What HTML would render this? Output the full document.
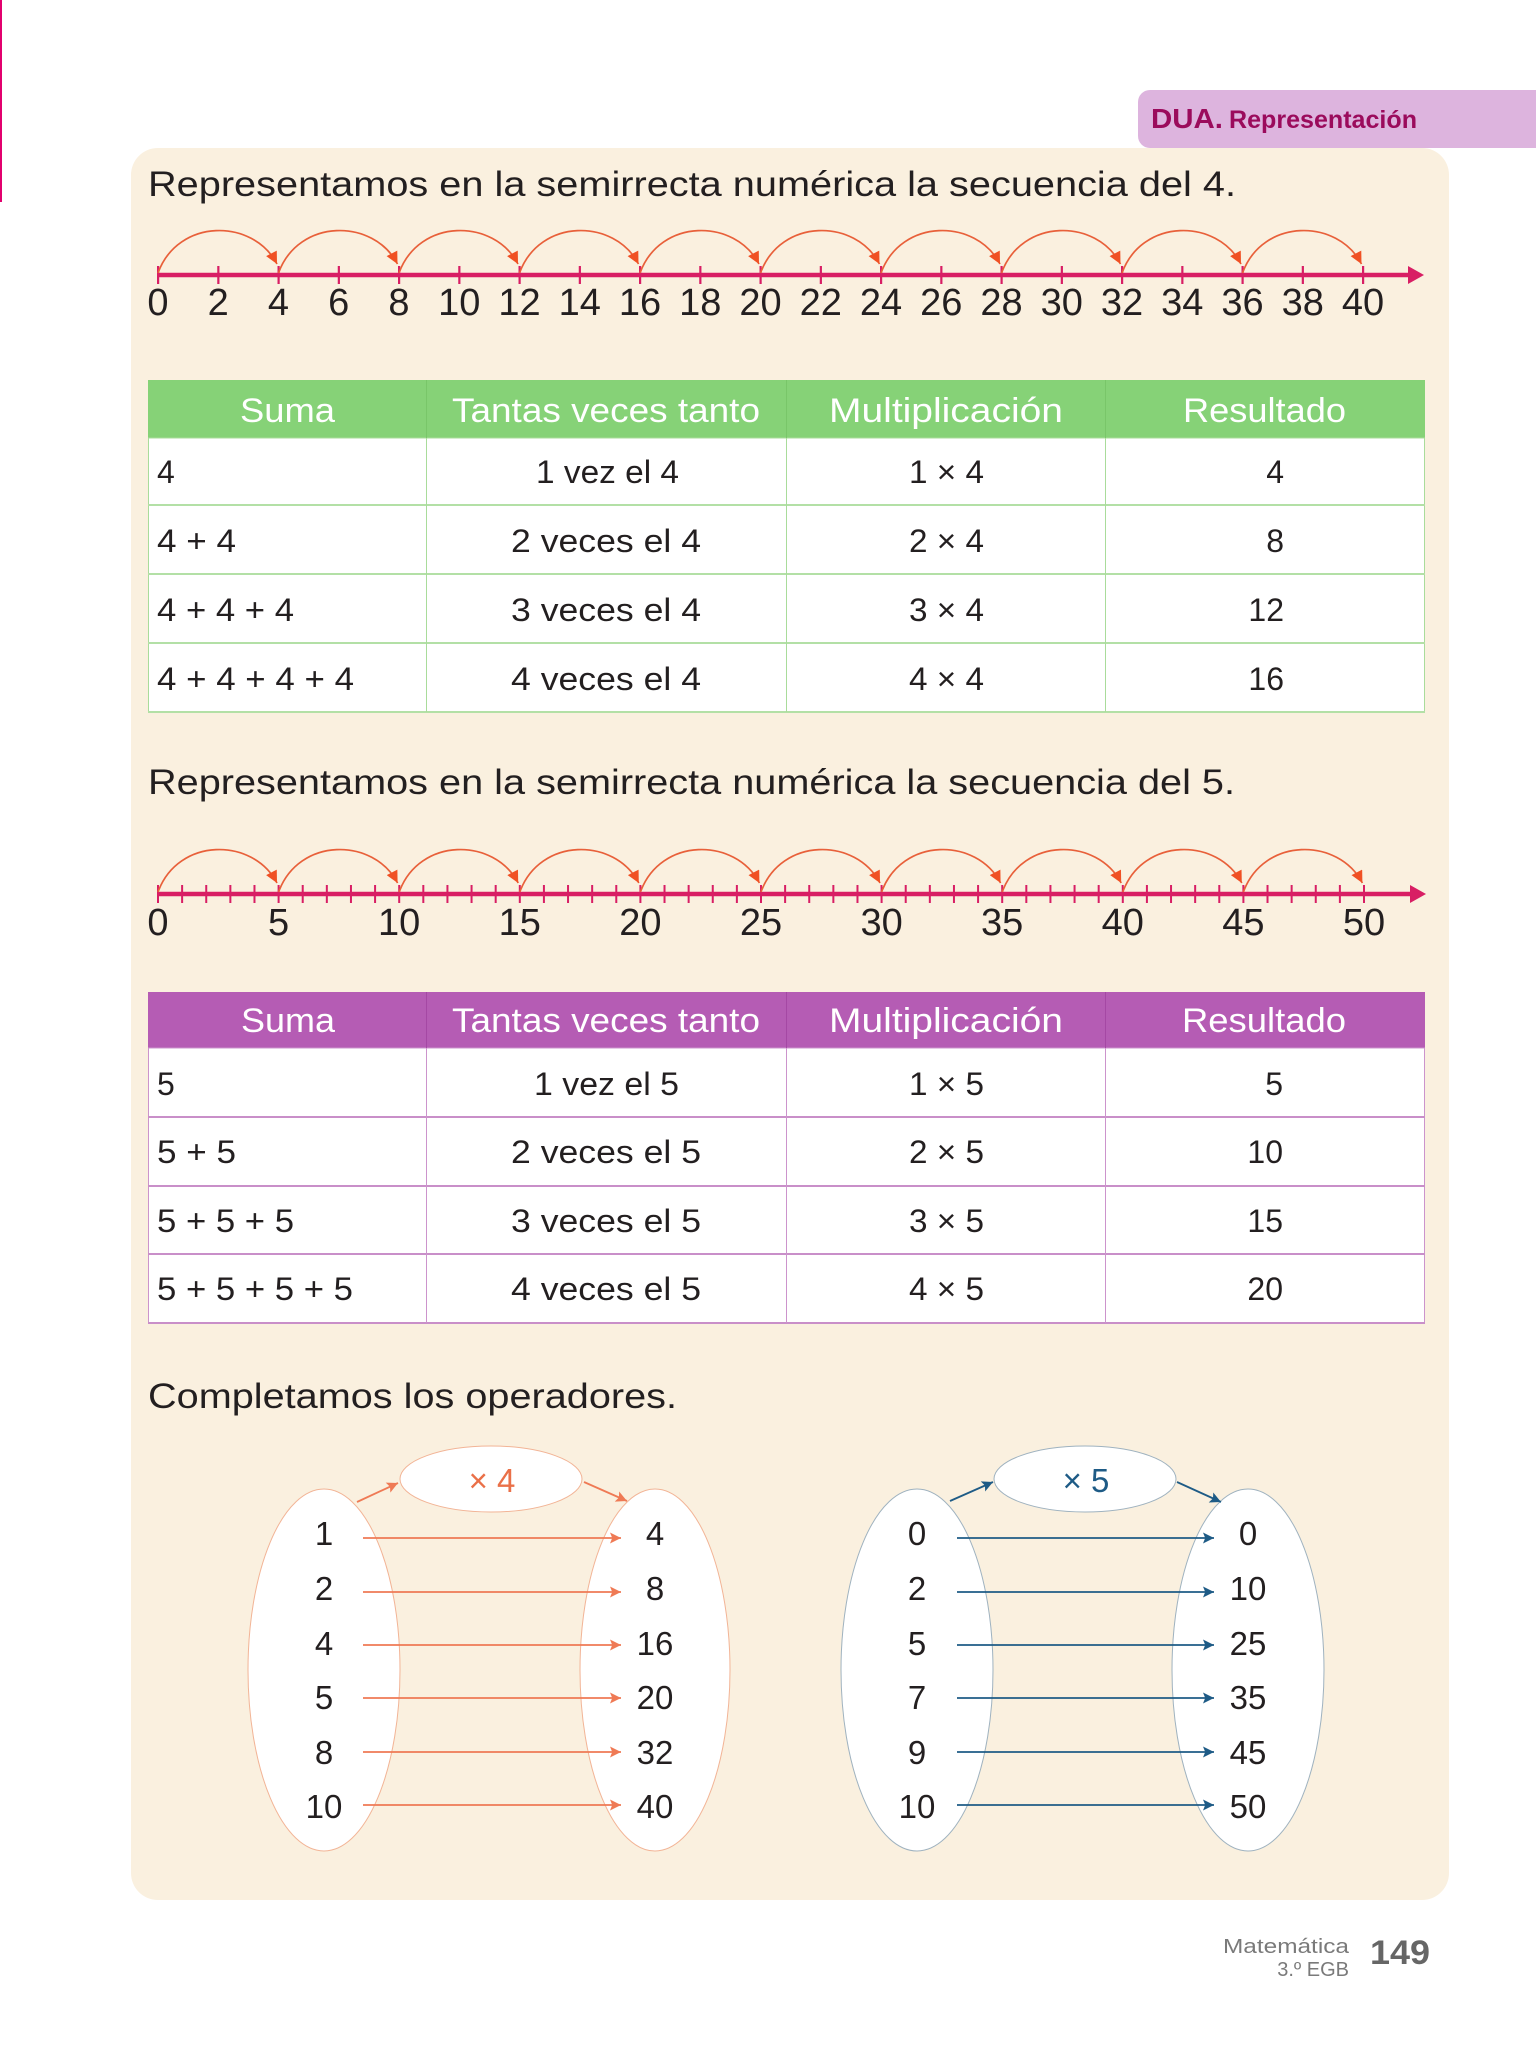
<!DOCTYPE html>
<html><head><meta charset="utf-8"><style>
html,body{margin:0;padding:0;background:#fff;}
svg{display:block;}
text{font-family:"Liberation Sans",sans-serif;}
</style></head><body>
<svg width="1536" height="2048" viewBox="0 0 1536 2048" xmlns="http://www.w3.org/2000/svg">
<defs>
<marker id="mo" viewBox="0 0 10 10" refX="10" refY="5" markerWidth="14" markerHeight="12" markerUnits="userSpaceOnUse" orient="auto"><path d="M0,0 L10,5 L0,10 z" fill="#f05023"/></marker>
<marker id="ao" viewBox="0 0 10 10" refX="10" refY="5" markerWidth="15" markerHeight="11" markerUnits="userSpaceOnUse" orient="auto"><path d="M0,0 L10,5 L0,10 L2,5 z" fill="#ef7a55"/></marker>
<marker id="ab" viewBox="0 0 10 10" refX="10" refY="5" markerWidth="15" markerHeight="11" markerUnits="userSpaceOnUse" orient="auto"><path d="M0,0 L10,5 L0,10 L2,5 z" fill="#1e5b86"/></marker>
</defs>

<rect x="0" y="0" width="2" height="202" fill="#e2006e"/>

<rect x="131" y="148" width="1318" height="1752" rx="27" ry="27" fill="#faf0df"/>
<rect x="1138" y="90" width="420" height="58" rx="12" ry="12" fill="#ddb4de"/>
<text x="1151" y="128" font-size="28" font-weight="bold" fill="#9b0b5c" textLength="72" lengthAdjust="spacingAndGlyphs">DUA.</text>
<text x="1229" y="128" font-size="25" font-weight="bold" fill="#9b0b5c" textLength="188" lengthAdjust="spacingAndGlyphs">Representación</text>

<!-- Title 1 -->
<text x="148" y="196" font-size="35" fill="#231f20" textLength="1088" lengthAdjust="spacingAndGlyphs">Representamos en la semirrecta numérica la secuencia del 4.</text>

<!-- Number line 1 -->
<line x1="158" y1="275" x2="1412" y2="275" stroke="#d81e64" stroke-width="4.5"/>
<line x1="157" y1="275" x2="1366" y2="275" stroke="#d81e64" stroke-width="18" stroke-dasharray="2.2 58.05"/>
<polygon points="1408,266 1424,275 1408,284" fill="#d81e64"/>
<g fill="none" stroke="#e8603a" stroke-width="1.7" marker-end="url(#mo)">
<path d="M158,273 c20,-55 95,-55 119,-9"/>
<path d="M278.5,273 c20,-55 95,-55 119,-9"/>
<path d="M399,273 c20,-55 95,-55 119,-9"/>
<path d="M519.5,273 c20,-55 95,-55 119,-9"/>
<path d="M640,273 c20,-55 95,-55 119,-9"/>
<path d="M760.5,273 c20,-55 95,-55 119,-9"/>
<path d="M881,273 c20,-55 95,-55 119,-9"/>
<path d="M1001.5,273 c20,-55 95,-55 119,-9"/>
<path d="M1122,273 c20,-55 95,-55 119,-9"/>
<path d="M1242.5,273 c20,-55 95,-55 119,-9"/>
</g>
<g font-size="38" fill="#231f20" text-anchor="middle">
<text x="158" y="315">0</text><text x="218.25" y="315">2</text><text x="278.5" y="315">4</text><text x="338.75" y="315">6</text><text x="399" y="315">8</text><text x="459.25" y="315">10</text><text x="519.5" y="315">12</text><text x="579.75" y="315">14</text><text x="640" y="315">16</text><text x="700.25" y="315">18</text><text x="760.5" y="315">20</text><text x="820.75" y="315">22</text><text x="881" y="315">24</text><text x="941.25" y="315">26</text><text x="1001.5" y="315">28</text><text x="1061.75" y="315">30</text><text x="1122" y="315">32</text><text x="1182.25" y="315">34</text><text x="1242.5" y="315">36</text><text x="1302.75" y="315">38</text><text x="1363" y="315">40</text>
</g>

<!-- Table 1 -->
<rect x="148" y="380" width="1277" height="58" fill="#86d277"/>
<rect x="148.5" y="438" width="1276" height="274" fill="#ffffff" stroke="#a9dc9b" stroke-width="1"/>
<g stroke="#b3e0a6" stroke-width="2">
<line x1="148" y1="505" x2="1425" y2="505"/><line x1="148" y1="574" x2="1425" y2="574"/><line x1="148" y1="643" x2="1425" y2="643"/><line x1="148" y1="712" x2="1425" y2="712"/>
</g>
<g stroke="#79c669" stroke-width="1">
<line x1="426.5" y1="380" x2="426.5" y2="438"/><line x1="786.5" y1="380" x2="786.5" y2="438"/><line x1="1105.5" y1="380" x2="1105.5" y2="438"/>
</g>
<g stroke="#a9dc9b" stroke-width="1">
<line x1="426.5" y1="438" x2="426.5" y2="712"/><line x1="786.5" y1="438" x2="786.5" y2="712"/><line x1="1105.5" y1="438" x2="1105.5" y2="712"/>
</g>
<g font-size="34" fill="#ffffff">
<text x="240" y="422" textLength="95" lengthAdjust="spacingAndGlyphs">Suma</text>
<text x="452" y="422" textLength="308" lengthAdjust="spacingAndGlyphs">Tantas veces tanto</text>
<text x="829" y="422" textLength="234" lengthAdjust="spacingAndGlyphs">Multiplicación</text>
<text x="1183" y="422" textLength="163" lengthAdjust="spacingAndGlyphs">Resultado</text>
</g>
<g font-size="32" fill="#231f20">
<text x="157" y="483">4</text>
<text x="157" y="552" textLength="79" lengthAdjust="spacingAndGlyphs">4 + 4</text>
<text x="157" y="621" textLength="137" lengthAdjust="spacingAndGlyphs">4 + 4 + 4</text>
<text x="157" y="690" textLength="197" lengthAdjust="spacingAndGlyphs">4 + 4 + 4 + 4</text>
<text x="536" y="483" textLength="143" lengthAdjust="spacingAndGlyphs">1 vez el 4</text>
<text x="511" y="552" textLength="190" lengthAdjust="spacingAndGlyphs">2 veces el 4</text>
<text x="511" y="621" textLength="190" lengthAdjust="spacingAndGlyphs">3 veces el 4</text>
<text x="511" y="690" textLength="190" lengthAdjust="spacingAndGlyphs">4 veces el 4</text>
<text x="909" y="483" textLength="75" lengthAdjust="spacingAndGlyphs">1 × 4</text>
<text x="909" y="552" textLength="75" lengthAdjust="spacingAndGlyphs">2 × 4</text>
<text x="909" y="621" textLength="75" lengthAdjust="spacingAndGlyphs">3 × 4</text>
<text x="909" y="690" textLength="75" lengthAdjust="spacingAndGlyphs">4 × 4</text>
<g text-anchor="end">
<text x="1284" y="483">4</text><text x="1284" y="552">8</text><text x="1284" y="621">12</text><text x="1284" y="690">16</text>
</g>
</g>

<!-- Title 2 -->
<text x="148" y="794" font-size="35" fill="#231f20" textLength="1087" lengthAdjust="spacingAndGlyphs">Representamos en la semirrecta numérica la secuencia del 5.</text>

<!-- Number line 2 -->
<line x1="158" y1="894" x2="1414" y2="894" stroke="#d81e64" stroke-width="4.5"/>
<line x1="157" y1="894" x2="1366" y2="894" stroke="#d81e64" stroke-width="18" stroke-dasharray="2 22.12"/>
<polygon points="1410,885 1426,894 1410,903" fill="#d81e64"/>
<g fill="none" stroke="#e8603a" stroke-width="1.7" marker-end="url(#mo)">
<path d="M158,892 c20,-55 95,-55 119,-9"/>
<path d="M278.6,892 c20,-55 95,-55 119,-9"/>
<path d="M399.2,892 c20,-55 95,-55 119,-9"/>
<path d="M519.8,892 c20,-55 95,-55 119,-9"/>
<path d="M640.4,892 c20,-55 95,-55 119,-9"/>
<path d="M761,892 c20,-55 95,-55 119,-9"/>
<path d="M881.6,892 c20,-55 95,-55 119,-9"/>
<path d="M1002.2,892 c20,-55 95,-55 119,-9"/>
<path d="M1122.8,892 c20,-55 95,-55 119,-9"/>
<path d="M1243.4,892 c20,-55 95,-55 119,-9"/>
</g>
<g font-size="38" fill="#231f20" text-anchor="middle">
<text x="158" y="935">0</text><text x="278.6" y="935">5</text><text x="399.2" y="935">10</text><text x="519.8" y="935">15</text><text x="640.4" y="935">20</text><text x="761" y="935">25</text><text x="881.6" y="935">30</text><text x="1002.2" y="935">35</text><text x="1122.8" y="935">40</text><text x="1243.4" y="935">45</text><text x="1364" y="935">50</text>
</g>

<!-- Table 2 -->
<rect x="148" y="992" width="1277" height="56" fill="#b55cb4"/>
<rect x="148.5" y="1048" width="1276" height="275" fill="#ffffff" stroke="#cc94cc" stroke-width="1"/>
<g stroke="#c98fc9" stroke-width="2">
<line x1="148" y1="1117" x2="1425" y2="1117"/><line x1="148" y1="1186" x2="1425" y2="1186"/><line x1="148" y1="1254" x2="1425" y2="1254"/><line x1="148" y1="1323" x2="1425" y2="1323"/>
</g>
<g stroke="#a548a4" stroke-width="1">
<line x1="426.5" y1="992" x2="426.5" y2="1048"/><line x1="786.5" y1="992" x2="786.5" y2="1048"/><line x1="1105.5" y1="992" x2="1105.5" y2="1048"/>
</g>
<g stroke="#cc94cc" stroke-width="1">
<line x1="426.5" y1="1048" x2="426.5" y2="1323"/><line x1="786.5" y1="1048" x2="786.5" y2="1323"/><line x1="1105.5" y1="1048" x2="1105.5" y2="1323"/>
</g>
<g font-size="34" fill="#ffffff">
<text x="241" y="1032" textLength="94" lengthAdjust="spacingAndGlyphs">Suma</text>
<text x="452" y="1032" textLength="308" lengthAdjust="spacingAndGlyphs">Tantas veces tanto</text>
<text x="829" y="1032" textLength="234" lengthAdjust="spacingAndGlyphs">Multiplicación</text>
<text x="1182" y="1032" textLength="164" lengthAdjust="spacingAndGlyphs">Resultado</text>
</g>
<g font-size="32" fill="#231f20">
<text x="157" y="1095">5</text>
<text x="157" y="1163" textLength="79" lengthAdjust="spacingAndGlyphs">5 + 5</text>
<text x="157" y="1232" textLength="137" lengthAdjust="spacingAndGlyphs">5 + 5 + 5</text>
<text x="157" y="1300" textLength="196" lengthAdjust="spacingAndGlyphs">5 + 5 + 5 + 5</text>
<text x="534" y="1095" textLength="145" lengthAdjust="spacingAndGlyphs">1 vez el 5</text>
<text x="511" y="1163" textLength="190" lengthAdjust="spacingAndGlyphs">2 veces el 5</text>
<text x="511" y="1232" textLength="190" lengthAdjust="spacingAndGlyphs">3 veces el 5</text>
<text x="511" y="1300" textLength="190" lengthAdjust="spacingAndGlyphs">4 veces el 5</text>
<text x="909" y="1095" textLength="75" lengthAdjust="spacingAndGlyphs">1 × 5</text>
<text x="909" y="1163" textLength="75" lengthAdjust="spacingAndGlyphs">2 × 5</text>
<text x="909" y="1232" textLength="75" lengthAdjust="spacingAndGlyphs">3 × 5</text>
<text x="909" y="1300" textLength="75" lengthAdjust="spacingAndGlyphs">4 × 5</text>
<g text-anchor="end">
<text x="1283" y="1095">5</text><text x="1283" y="1163">10</text><text x="1283" y="1232">15</text><text x="1283" y="1300">20</text>
</g>
</g>

<!-- Title 3 -->
<text x="148" y="1408" font-size="35" fill="#231f20" textLength="529" lengthAdjust="spacingAndGlyphs">Completamos los operadores.</text>

<!-- Operator x4 -->
<g fill="#ffffff" stroke="#f2b496" stroke-width="1">
<ellipse cx="324" cy="1670" rx="76" ry="181"/>
<ellipse cx="655" cy="1670" rx="75" ry="181"/>
<ellipse cx="491" cy="1479" rx="91" ry="33"/>
</g>
<g stroke="#ef7a55" stroke-width="1.8" marker-end="url(#ao)">
<line x1="357" y1="1502" x2="398" y2="1483"/>
<line x1="584" y1="1482" x2="627" y2="1501"/>
<line x1="363" y1="1538" x2="621" y2="1538"/>
<line x1="363" y1="1592" x2="621" y2="1592"/>
<line x1="363" y1="1645" x2="621" y2="1645"/>
<line x1="363" y1="1698" x2="621" y2="1698"/>
<line x1="363" y1="1752" x2="621" y2="1752"/>
<line x1="363" y1="1805" x2="621" y2="1805"/>
</g>
<text x="492" y="1492" font-size="33" fill="#ea7048" text-anchor="middle">× 4</text>
<g font-size="33" fill="#231f20" text-anchor="middle">
<text x="324" y="1545">1</text><text x="324" y="1600">2</text><text x="324" y="1655">4</text><text x="324" y="1709">5</text><text x="324" y="1764">8</text><text x="324" y="1818">10</text>
<text x="655" y="1545">4</text><text x="655" y="1600">8</text><text x="655" y="1655">16</text><text x="655" y="1709">20</text><text x="655" y="1764">32</text><text x="655" y="1818">40</text>
</g>

<!-- Operator x5 -->
<g fill="#ffffff" stroke="#9fb2bf" stroke-width="1">
<ellipse cx="917" cy="1670" rx="76" ry="181"/>
<ellipse cx="1248" cy="1670" rx="76" ry="181"/>
<ellipse cx="1085" cy="1479" rx="91" ry="33"/>
</g>
<g stroke="#1e5b86" stroke-width="1.8" marker-end="url(#ab)">
<line x1="950" y1="1501" x2="993" y2="1482"/>
<line x1="1177" y1="1482" x2="1221" y2="1502"/>
<line x1="957" y1="1538" x2="1214" y2="1538"/>
<line x1="957" y1="1592" x2="1214" y2="1592"/>
<line x1="957" y1="1645" x2="1214" y2="1645"/>
<line x1="957" y1="1698" x2="1214" y2="1698"/>
<line x1="957" y1="1752" x2="1214" y2="1752"/>
<line x1="957" y1="1805" x2="1214" y2="1805"/>
</g>
<text x="1086" y="1492" font-size="33" fill="#1e5b86" text-anchor="middle">× 5</text>
<g font-size="33" fill="#231f20" text-anchor="middle">
<text x="917" y="1545">0</text><text x="917" y="1600">2</text><text x="917" y="1655">5</text><text x="917" y="1709">7</text><text x="917" y="1764">9</text><text x="917" y="1818">10</text>
<text x="1248" y="1545">0</text><text x="1248" y="1600">10</text><text x="1248" y="1655">25</text><text x="1248" y="1709">35</text><text x="1248" y="1764">45</text><text x="1248" y="1818">50</text>
</g>

<!-- Footer -->
<text x="1349" y="1953" font-size="20" fill="#7a7a7a" text-anchor="end" textLength="126" lengthAdjust="spacingAndGlyphs">Matemática</text>
<text x="1349" y="1976" font-size="20" fill="#7a7a7a" text-anchor="end">3.º EGB</text>
<text x="1370" y="1964" font-size="34" font-weight="bold" fill="#666666" textLength="60" lengthAdjust="spacingAndGlyphs">149</text>
</svg>
</body></html>
